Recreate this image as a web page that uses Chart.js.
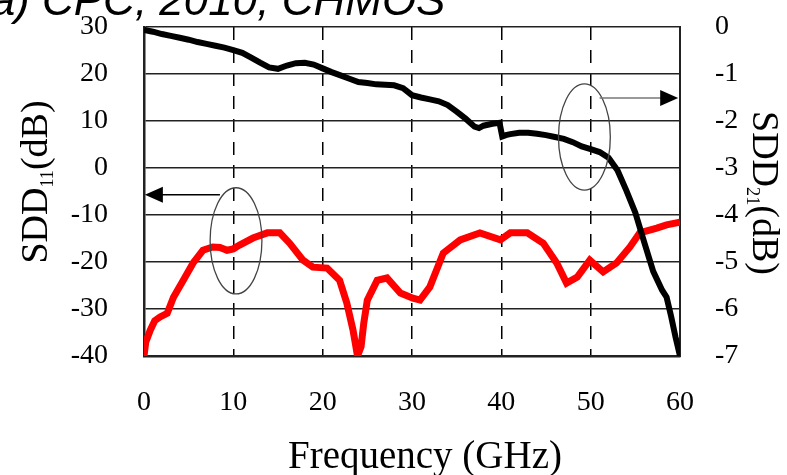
<!DOCTYPE html>
<html>
<head>
<meta charset="utf-8">
<script src="https://cdn.jsdelivr.net/npm/chart.js@4.4.0/dist/chart.umd.min.js"></script>
<style>
html,body{margin:0;padding:0;background:#fff;}
canvas{display:block;}
</style>
</head>
<body>
<canvas id="chart" width="787" height="475"></canvas>
<script>
// Achsen / Ticks
const freqTicks = [0, 10, 20, 30, 40, 50, 60];
const sdd11Ticks = [30, 20, 10, 0, -10, -20, -30, -40];
const sdd21Ticks = [0, -1, -2, -3, -4, -5, -6, -7];

// SDD21 (schwarz, rechte Achse)
const freq21 = [0, 1, 2, 3, 4, 5, 6, 7, 8, 9, 10, 11, 12, 13, 14, 15, 16, 17, 18, 19,
  20, 21, 22, 23, 24, 25, 26, 27, 28, 29, 30, 31, 32, 33, 34, 35, 36, 37, 37.5, 38,
  39, 39.8, 40.1, 40.5, 41, 42, 43, 44, 45, 46, 47, 48, 49, 50, 51, 52, 53, 54, 55,
  56, 57, 58, 58.5, 59, 59.5, 60];
const sdd21 = [-0.06, -0.1, -0.15, -0.19, -0.23, -0.27, -0.32, -0.36, -0.4, -0.44, -0.49,
  -0.55, -0.65, -0.76, -0.86, -0.89, -0.82, -0.77, -0.76, -0.8, -0.88, -0.96, -1.03,
  -1.1, -1.17, -1.19, -1.22, -1.23, -1.24, -1.3, -1.45, -1.5, -1.54, -1.58, -1.66,
  -1.8, -1.95, -2.12, -2.15, -2.1, -2.06, -2.04, -2.33, -2.3, -2.28, -2.25, -2.25,
  -2.27, -2.3, -2.34, -2.38, -2.45, -2.54, -2.6, -2.66, -2.78, -3.05, -3.48, -3.95,
  -4.58, -5.2, -5.6, -5.75, -6.15, -6.6, -7.0];

// SDD11 (rot, linke Achse)
const freq11 = [0, 0.2, 0.7, 1.2, 1.8, 2.6, 3.3, 4.4, 5.5, 6.6, 7.7, 8.5, 9.3, 10, 10.7,
  12.2, 13.8, 15.2, 16.3, 17.8, 18.9, 20.5, 21.9, 22.7, 23.4, 23.9, 24.3, 24.6, 25,
  26.1, 27.2, 28.7, 30.1, 30.9, 32, 33.5, 35.4, 37.6, 39.9, 41, 42.9, 44.7, 46.2,
  47.3, 48.5, 49.9, 51.4, 52.9, 54.4, 55.5, 57.4, 58.5, 60];
const sdd11 = [-40, -37, -34.5, -32.5, -31.7, -30.9, -27.5, -23.9, -20.2, -17.5, -16.8,
  -16.9, -17.5, -17.2, -16.4, -14.9, -13.8, -13.8, -16, -19.6, -21.1, -21.3, -23.9,
  -28.7, -34.5, -40, -38, -33, -28.1, -23.9, -23.4, -26.6, -27.7, -28.1, -25.3,
  -18.1, -15.3, -13.8, -15.3, -13.8, -13.8, -16, -20.2, -24.5, -23.2, -19.6, -22.1,
  -20.2, -16.8, -13.8, -12.8, -12.1, -11.5];

// Markierungen (Ellipsen + Pfeile) in Dateneinheiten
const ellipses = [
  {axis: "y", f: 10.3, v: -15.5, df: 2.9, dv: 11.3},
  {axis: "y2", f: 49.3, v: -2.34, df: 2.9, dv: 1.13}
];
const arrows = [
  {axis: "y", v: -5.7, from: 8.5, to: 0.1, color: "#000", width: 1.6},
  {axis: "y2", v: -1.51, from: 51.0, to: 59.8, color: "#777", width: 1.6}
];

const SERIF = '"Liberation Serif", "Times New Roman", serif';

function subLabel(ctx, main, sub, tail, size){
  ctx.textAlign = "left"; ctx.textBaseline = "alphabetic";
  ctx.font = `${size}px ${SERIF}`;
  const w1 = ctx.measureText(main).width, w3 = ctx.measureText(tail).width;
  ctx.font = `${size*0.48}px ${SERIF}`;
  const w2 = ctx.measureText(sub).width;
  let x = -(w1+w2+w3)/2;
  const base = size*0.33;
  ctx.font = `${size}px ${SERIF}`; ctx.fillText(main, x, base); x += w1;
  ctx.font = `${size*0.48}px ${SERIF}`; ctx.fillText(sub, x, base + size*0.18); x += w2;
  ctx.font = `${size}px ${SERIF}`; ctx.fillText(tail, x, base);
}

const extras = {
  id: "extras",
  afterDatasetsDraw(c){
    const ctx = c.ctx, xs = c.scales.x;
    ctx.save();
    ellipses.forEach(e=>{
      const ys = c.scales[e.axis];
      const cx = xs.getPixelForValue(e.f), cy = ys.getPixelForValue(e.v);
      const rx = Math.abs(xs.getPixelForValue(e.f+e.df)-cx);
      const ry = Math.abs(ys.getPixelForValue(e.v+e.dv)-cy);
      ctx.beginPath(); ctx.ellipse(cx, cy, rx, ry, 0, 0, Math.PI*2);
      ctx.strokeStyle = "#444"; ctx.lineWidth = 1.3; ctx.stroke();
    });
    arrows.forEach(a=>{
      const ys = c.scales[a.axis];
      const y = ys.getPixelForValue(a.v);
      const x0 = xs.getPixelForValue(a.from), x1 = xs.getPixelForValue(a.to);
      const dir = x1 > x0 ? 1 : -1;
      ctx.beginPath(); ctx.moveTo(x0, y); ctx.lineTo(x1 - dir*16, y);
      ctx.strokeStyle = a.color; ctx.lineWidth = a.width; ctx.stroke();
      ctx.beginPath(); ctx.moveTo(x1, y); ctx.lineTo(x1 - dir*18, y-8); ctx.lineTo(x1 - dir*18, y+8);
      ctx.closePath(); ctx.fillStyle = "#000"; ctx.fill();
    });
    ctx.restore();
  },
  afterDraw(c){
    const ctx = c.ctx;
    ctx.save();
    ctx.fillStyle = "#000";
    // abgeschnittener Titel oben
    ctx.font = 'italic 44px "Liberation Sans", Arial, sans-serif';
    ctx.textAlign = "left"; ctx.textBaseline = "alphabetic";
    ctx.fillText("(a) CPC, 2010, CHMOS", -24, 15);
    // Achsentitel
    ctx.save(); ctx.translate(34, 182); ctx.rotate(-Math.PI/2);
    subLabel(ctx, "SDD", "11", "(dB)", 38); ctx.restore();
    ctx.save(); ctx.translate(766, 193); ctx.rotate(Math.PI/2);
    subLabel(ctx, "SDD", "21", "(dB)", 38); ctx.restore();
    ctx.font = `39px ${SERIF}`; ctx.textAlign = "center";
    ctx.fillText("Frequency (GHz)", 425, 468);
    ctx.restore();
  }
};

const tickFont = {family: SERIF, size: 28};
// Label-Überstand nicht in den Layout-Abstand einrechnen
const noPad = s=>{ s.paddingTop = 0; s.paddingBottom = 0; };

new Chart(document.getElementById("chart"), {
  type: "line",
  data: {
    datasets: [
      {label: "SDD21", data: freq21.map((f,i)=>({x:f, y:sdd21[i]})), yAxisID: "y2",
        borderColor: "#000", borderWidth: 6, pointRadius: 0, tension: 0, order: 0},
      {label: "SDD11", data: freq11.map((f,i)=>({x:f, y:sdd11[i]})), yAxisID: "y",
        borderColor: "#ff0000", borderWidth: 7, pointRadius: 0, tension: 0, order: 1}
    ]
  },
  options: {
    responsive: false, animation: false, devicePixelRatio: 1,
    layout: {padding: {top: 27, left: 0, right: 0, bottom: 0}, autoPadding: false},
    plugins: {legend: {display: false}, tooltip: {enabled: false}},
    scales: {
      x: {
        type: "linear", min: 0, max: 60,
        afterBuildTicks: s=>{ s.ticks = freqTicks.map(v=>({value:v})); },
        afterFit: s=>{ s.height = 119; s.paddingLeft = 0; s.paddingRight = 0; },
        grid: {color: "#000", lineWidth: 1.5, drawTicks: false},
        border: {color: "#222", width: 2.5, dash: [13, 10]},
        ticks: {color: "#000", font: tickFont, padding: 30, maxRotation: 0}
      },
      y: {
        type: "linear", position: "left", min: -40, max: 30,
        afterBuildTicks: s=>{ s.ticks = sdd11Ticks.map(v=>({value:v})); },
        afterFit: s=>{ s.width = 144; noPad(s); },
        grid: {color: "#222", lineWidth: 1.6, drawTicks: false},
        border: {color: "#222", width: 2.5},
        ticks: {color: "#000", font: tickFont, padding: 36}
      },
      y2: {
        type: "linear", position: "right", min: -7, max: 0,
        afterBuildTicks: s=>{ s.ticks = sdd21Ticks.map(v=>({value:v})); },
        afterFit: s=>{ s.width = 107; noPad(s); },
        grid: {display: false},
        border: {color: "#222", width: 2},
        ticks: {color: "#000", font: tickFont, padding: 27}
      }
    }
  },
  plugins: [extras]
});
</script>
</body>
</html>
